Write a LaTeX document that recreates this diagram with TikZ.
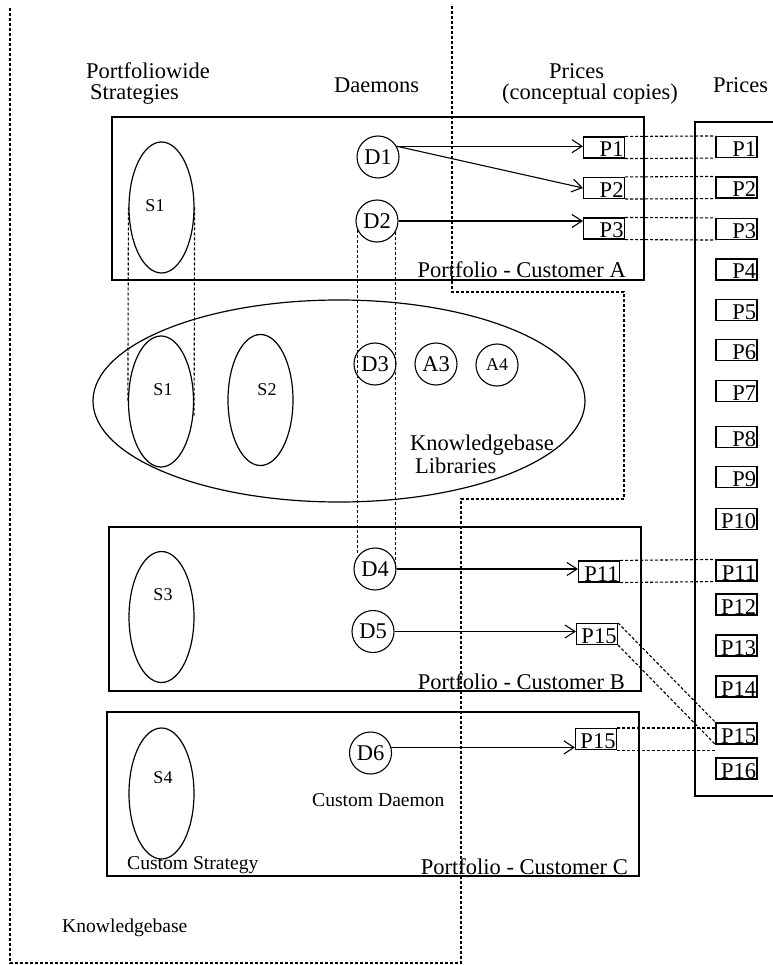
\documentclass[tikz,border=0pt]{standalone}
\usepackage{fontspec}
\setmainfont{Liberation Serif}
\usepackage{tikz}
\usetikzlibrary{arrows.meta,shapes.geometric}

\begin{document}
\begin{tikzpicture}[
  x=1pt,y=-1pt,
  font=\fontsize{22.5}{24}\selectfont,
  portbox/.style={draw,line width=1.3pt,minimum width=532pt,minimum height=163pt,inner sep=0pt},
  strat/.style={draw,ellipse,line width=1.2pt,minimum width=65pt,minimum height=131pt,inner sep=0pt},
  daemon/.style={draw,circle,line width=1.1pt,minimum size=42pt,inner sep=0pt},
  price/.style={draw,rectangle,line width=1.1pt,text width=39pt,align=right,
                inner xsep=1pt,inner ysep=1pt,text height=19pt,text depth=0pt},
  slbl/.style={font=\fontsize{18}{20}\selectfont,inner sep=0pt},
  small/.style={font=\fontsize{19.6}{21}\selectfont,inner sep=0pt},
  txt/.style={inner sep=0pt},
  flow/.style={-{Straight Barb[length=10pt,width=13pt,line width=1.1pt]},line width=1.1pt},
  copyline/.style={line width=1.1pt,dash pattern=on 3pt off 2pt},
  kbline/.style={line width=1.1pt,dash pattern=on 3pt off 2pt}
]
\useasboundingbox (0,0) rectangle (772,965);

\draw[kbline] (10,8) -- (10,963) -- (461,963) -- (461,499) -- (624,499)
  -- (624,292) -- (452,292) -- (452,4);

\node[txt,anchor=base west] (hstrat1) at (86,79) {Portfoliowide};
\node[txt,anchor=base west] (hstrat2) at (90,100) {Strategies};
\node[txt,anchor=base west] (hdaem) at (334,93) {Daemons};
\node[txt,anchor=base west] (hcopy1) at (549,79) {Prices};
\node[txt,anchor=base west] (hcopy2) at (502,100) {(conceptual copies)};
\node[txt,anchor=base west] (hprice) at (713,93) {Prices};

\node[portbox] (pfa) at (378,198.5) {};
\node[portbox,minimum height=164pt] (pfb) at (375,609) {};
\node[portbox,minimum height=164pt] (pfc) at (373,794) {};
\node[draw,line width=1.2pt,minimum width=105pt,minimum height=674pt] (rframe) at (747.5,459) {};

\node[draw,ellipse,line width=1.2pt,minimum width=492pt,minimum height=202pt,inner sep=0pt] (kblib) at (339,401) {};

\node[strat] (s1a) at (161.5,207.5) {};
\node[strat] (s1b) at (161,401.5) {};
\node[strat] (s2) at (260.5,400) {};
\node[strat] (s3) at (161.5,617) {};
\node[strat] (s4) at (161.5,793.5) {};
\node[slbl] (s1at) at (155,206) {S1};
\node[slbl] (s1bt) at (163,390) {S1};
\node[slbl] (s2t) at (267,390) {S2};
\node[slbl] (s3t) at (163,595) {S3};
\node[slbl] (s4t) at (163,778) {S4};

\node[daemon] (d1) at (378,157) {D1};
\node[daemon] (d2) at (377,221) {D2};
\node[daemon] (d3) at (375,364) {D3};
\node[daemon] (a3) at (436,364) {A3};
\node[daemon,font=\fontsize{18}{20}\selectfont] (a4) at (497,365) {A4};
\node[daemon] (d4) at (375,569) {D4};
\node[daemon] (d5) at (373,631.5) {D5};
\node[daemon] (d6) at (370.5,753) {D6};

\node[txt,anchor=base west] (kbl1) at (410,450) {Knowledgebase};
\node[txt,anchor=base west] (kbl2) at (415,473) {Libraries};
\node[txt,anchor=base east] (pfat) at (626,277) {Portfolio - Customer A};
\node[txt,anchor=base east] (pfbt) at (625,689) {Portfolio - Customer B};
\node[txt,anchor=base east] (pfct) at (628,874) {Portfolio - Customer C};
\node[small,anchor=base west] (cdaem) at (312,806) {Custom Daemon};
\node[small,anchor=base west] (cstrat) at (127,869) {Custom Strategy};
\node[small,anchor=base west] (kbt) at (62,932) {Knowledgebase};

\node[price] (pa1) at (604,147.5) {P1};
\node[price] (pa2) at (604,188) {P2};
\node[price] (pa3) at (604,228.5) {P3};
\node[price] (pb11) at (599,571.5) {P11};
\node[price] (pb15) at (597,634) {P15};
\node[price] (pc15) at (596,739) {P15};

\foreach \n/\y in {1/147,2/187.5,3/229,4/269.5,5/310,6/350,7/391,8/437,9/477,
                   10/519,11/570.5,12/604.5,13/645.5,14/686.5,15/733.5,16/768.5}
  \node[price] (r\n) at (736.5,\y) {P\n};

\draw[flow] (d1.30) -- (d1.30 -| pa1.west);
\draw[flow] (d1.30) -- (pa2.west);
\draw[flow] (d2.east) -- (d2.east -| pa3.west);
\draw[flow] (d4.east) -- (d4.east -| pb11.west);
\draw[flow] (d5.east) -- (d5.east -| pb15.west);
\draw[flow] (d6.15) -- (d6.15 -| pc15.west);

\foreach \c/\r in {pa1/r1,pa2/r2,pa3/r3,pb11/r11,pb15/r15}{
  \draw[copyline] (\c.north east) -- (\r.north west);
  \draw[copyline] (\c.south east) -- (\r.south west);
}
\draw[copyline] (pc15.north east) -- (pc15.north east -| r15.west);
\draw[copyline] (pc15.south east) -- (pc15.south east -| r15.west);

\draw[copyline] (s1a.west) -- (s1b.west);
\draw[copyline] (s1a.east) -- ([yshift=-14pt]s1b.east);
\draw[copyline] (d2.205) -- (d2.205 |- d4.139);
\draw[copyline] (d2.330) -- (d2.330 |- d4.east);
\end{tikzpicture}
\end{document}
